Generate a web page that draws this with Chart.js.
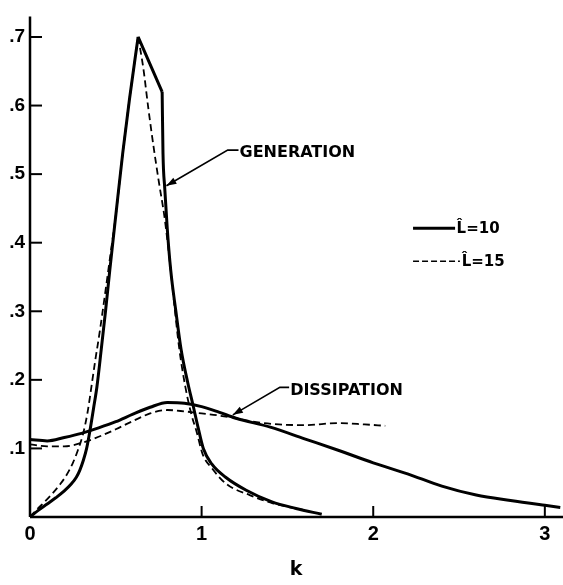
<!DOCTYPE html>
<html>
<head>
<meta charset="utf-8">
<title>Generation and dissipation vs k</title>
<script src="https://cdn.jsdelivr.net/npm/chart.js@4/dist/chart.umd.min.js"></script>
<style>
  html, body { margin: 0; padding: 0; background: #fff; }
  canvas { display: block; }
</style>
</head>
<body>
<canvas id="chart" width="563" height="585"></canvas>
<script>
// generation, L^=10 (solid)
const genK10 = [0, 0.05, 0.10, 0.15, 0.20, 0.24, 0.27, 0.29, 0.31, 0.33, 0.35, 0.37, 0.39, 0.415, 0.44, 0.465, 0.50, 0.54, 0.58, 0.63,
  0.77, 0.775, 0.785, 0.80, 0.82, 0.85, 0.88, 0.92, 0.95, 0.98, 1.01, 1.06, 1.14, 1.26, 1.41, 1.55, 1.70];
const genV10 = [0, 0.01, 0.019, 0.028, 0.038, 0.048, 0.058, 0.068, 0.082, 0.10, 0.127, 0.158, 0.19, 0.244, 0.30, 0.36, 0.44, 0.53, 0.61, 0.70,
  0.62, 0.53, 0.48, 0.42, 0.36, 0.30, 0.245, 0.195, 0.163, 0.13, 0.10, 0.077, 0.058, 0.039, 0.022, 0.0125, 0.004];
const genCorners10 = [0.63, 0.77];

// generation, L^=15 (dashed)
const genK15 = [0, 0.04, 0.085, 0.13, 0.17, 0.21, 0.25, 0.28, 0.31, 0.335, 0.355, 0.38, 0.405, 0.44, 0.47, 0.50, 0.54, 0.58, 0.63,
  0.66, 0.69, 0.72, 0.75, 0.785, 0.82, 0.845, 0.87, 0.905, 0.94, 0.97, 1.007, 1.057, 1.145, 1.28, 1.415, 1.60];
const genV15 = [0, 0.011, 0.022, 0.034, 0.046, 0.06, 0.079, 0.098, 0.122, 0.152, 0.185, 0.228, 0.268, 0.33, 0.385, 0.44, 0.53, 0.61, 0.70,
  0.655, 0.595, 0.54, 0.49, 0.435, 0.36, 0.30, 0.245, 0.19, 0.15, 0.125, 0.091, 0.072, 0.048, 0.032, 0.02, 0.01];
const genCorners15 = [0.63];

// dissipation, L^=10 (solid)
const disK10 = [0, 0.1, 0.2, 0.3, 0.4, 0.5, 0.6, 0.7, 0.8, 0.9, 1.0, 1.1, 1.2, 1.4, 1.6, 1.8, 2.0, 2.2, 2.4, 2.6, 2.8, 3.0, 3.09];
const disV10 = [0.113, 0.111, 0.116, 0.122, 0.13, 0.139, 0.15, 0.16, 0.167, 0.166, 0.161, 0.153, 0.144, 0.131, 0.114, 0.097, 0.079, 0.063, 0.045, 0.032, 0.024, 0.017, 0.014];

// dissipation, L^=15 (dashed)
const disK15 = [0, 0.1, 0.2, 0.3, 0.4, 0.5, 0.6, 0.7, 0.8, 0.9, 1.0, 1.1, 1.2, 1.3, 1.45, 1.6, 1.8, 1.95, 2.07];
const disV15 = [0.106, 0.103, 0.103, 0.108, 0.117, 0.128, 0.14, 0.151, 0.156, 0.154, 0.151, 0.148, 0.144, 0.139, 0.135, 0.134, 0.137, 0.135, 0.133];

const xTicks = [0, 1, 2, 3];
const yTicks = [0.1, 0.2, 0.3, 0.4, 0.5, 0.6, 0.7];
const seriesNames = ['L\u0302=10', 'L\u0302=15'];
const curveNames = ['GENERATION', 'DISSIPATION'];

const zip = (ks, vs) => ks.map((k, i) => ({ x: k, y: vs[i] }));

// cut a curve at its sharp corners so each piece is splined on its own
function pieces(ks, vs, corners) {
  const out = [];
  let start = 0;
  corners.forEach(c => {
    const i = ks.indexOf(c);
    out.push(zip(ks.slice(start, i + 1), vs.slice(start, i + 1)));
    start = i;
  });
  out.push(zip(ks.slice(start), vs.slice(start)));
  return out;
}

const tickFont = { family: '"Liberation Sans", Arial, sans-serif', size: 19, weight: 'bold' };
const noteFont = 'bold 16px "DejaVu Sans", sans-serif';

function line(ctx, pts, w) {
  ctx.lineWidth = w;
  ctx.beginPath();
  ctx.moveTo(pts[0][0], pts[0][1]);
  for (let i = 1; i < pts.length; i++) ctx.lineTo(pts[i][0], pts[i][1]);
  ctx.stroke();
}

function arrowHead(ctx, fx, fy, tx, ty) {
  const a = Math.atan2(ty - fy, tx - fx);
  const len = 10, half = 3.5;
  ctx.beginPath();
  ctx.moveTo(tx, ty);
  ctx.lineTo(tx - len * Math.cos(a) + half * Math.sin(a), ty - len * Math.sin(a) - half * Math.cos(a));
  ctx.lineTo(tx - len * Math.cos(a) - half * Math.sin(a), ty - len * Math.sin(a) + half * Math.cos(a));
  ctx.closePath();
  ctx.fill();
}

// axes with inward ticks, curve labels with leaders, and the key
const decorations = {
  id: 'decorations',
  afterDatasetsDraw(chart) {
    const { ctx, chartArea: area, scales: { x, y } } = chart;
    ctx.save();
    ctx.strokeStyle = '#000';
    ctx.fillStyle = '#000';
    ctx.setLineDash([]);

    line(ctx, [[area.left, area.top], [area.left, area.bottom]], 2.5);
    line(ctx, [[area.left, area.bottom], [chart.width, area.bottom]], 2.5);
    yTicks.forEach(v => line(ctx, [[area.left, y.getPixelForValue(v)], [area.left + 12, y.getPixelForValue(v)]], 2));
    xTicks.slice(1).forEach(k => line(ctx, [[x.getPixelForValue(k), area.bottom], [x.getPixelForValue(k), area.bottom - 11]], 2));

    // GENERATION leader
    const gTip = [x.getPixelForValue(0.795), y.getPixelForValue(0.483)];
    const gElbow = [x.getPixelForValue(1.152), y.getPixelForValue(0.535)];
    const gEnd = [x.getPixelForValue(1.215), y.getPixelForValue(0.535)];
    line(ctx, [gTip, gElbow, gEnd], 1.6);
    arrowHead(ctx, gElbow[0], gElbow[1], gTip[0], gTip[1]);

    // DISSIPATION leader
    const dTip = [x.getPixelForValue(1.182), y.getPixelForValue(0.149)];
    const dElbow = [x.getPixelForValue(1.456), y.getPixelForValue(0.189)];
    const dEnd = [x.getPixelForValue(1.51), y.getPixelForValue(0.189)];
    line(ctx, [dTip, dElbow, dEnd], 1.6);
    arrowHead(ctx, dElbow[0], dElbow[1], dTip[0], dTip[1]);

    ctx.font = noteFont;
    ctx.textBaseline = 'middle';
    ctx.textAlign = 'left';
    ctx.fillText(curveNames[0], gEnd[0] + 1, gEnd[1] + 3);
    ctx.fillText(curveNames[1], dEnd[0] + 1, dEnd[1] + 3);

    // key
    const kx0 = x.getPixelForValue(2.232);
    const s1 = y.getPixelForValue(0.421);
    const s2 = y.getPixelForValue(0.373);
    line(ctx, [[kx0, s1], [x.getPixelForValue(2.477), s1]], 3);
    ctx.setLineDash([6, 3]);
    line(ctx, [[kx0, s2], [x.getPixelForValue(2.505), s2]], 1.6);
    ctx.setLineDash([]);
    ctx.font = 'bold 15px "DejaVu Sans", sans-serif';
    ctx.fillText(seriesNames[0], x.getPixelForValue(2.48) + 1, s1 + 1);
    ctx.fillText(seriesNames[1], x.getPixelForValue(2.51) + 1, s2 + 1);
    ctx.restore();
  }
};

const solid = { borderColor: '#000', borderWidth: 3, pointRadius: 0, fill: false, clip: 4, cubicInterpolationMode: 'monotone' };
const dashed = { borderColor: '#000', borderWidth: 1.8, borderDash: [7, 4], pointRadius: 0, fill: false, clip: 4, cubicInterpolationMode: 'monotone' };

const datasets = [
  ...pieces(genK10, genV10, genCorners10).map(d => ({ label: 'generation ' + seriesNames[0], data: d, ...solid })),
  ...pieces(genK15, genV15, genCorners15).map(d => ({ label: 'generation ' + seriesNames[1], data: d, ...dashed })),
  { label: 'dissipation ' + seriesNames[0], data: zip(disK10, disV10), ...solid },
  { label: 'dissipation ' + seriesNames[1], data: zip(disK15, disV15), ...dashed }
];

new Chart(document.getElementById('chart'), {
  type: 'line',
  data: { datasets },
  options: {
    responsive: false,
    animation: false,
    devicePixelRatio: 1,
    layout: { padding: { top: 8, right: 1, left: 0, bottom: 0 } },
    plugins: { legend: { display: false }, tooltip: { enabled: false } },
    scales: {
      x: {
        type: 'linear',
        min: 0,
        max: 3.1,
        afterFit: s => { s.height = 68; },
        afterBuildTicks: s => { s.ticks = xTicks.map(v => ({ value: v })); },
        grid: { display: false, drawTicks: false },
        border: { display: false },
        ticks: { color: '#000', font: { ...tickFont, size: 20 }, padding: 5, maxRotation: 0, callback: v => String(v) },
        title: { display: true, text: 'k', color: '#000', font: { family: '"DejaVu Sans", sans-serif', size: 19, weight: 'bold' }, padding: { top: 0, bottom: 4 } }
      },
      y: {
        type: 'linear',
        min: 0,
        max: 0.73,
        afterFit: s => { s.width = 30; },
        afterBuildTicks: s => { s.ticks = yTicks.map(v => ({ value: v })); },
        grid: { display: false, drawTicks: false },
        border: { display: false },
        ticks: { color: '#000', font: tickFont, padding: 5, callback: v => '.' + Math.round(v * 10) }
      }
    }
  },
  plugins: [decorations]
});
</script>
</body>
</html>
